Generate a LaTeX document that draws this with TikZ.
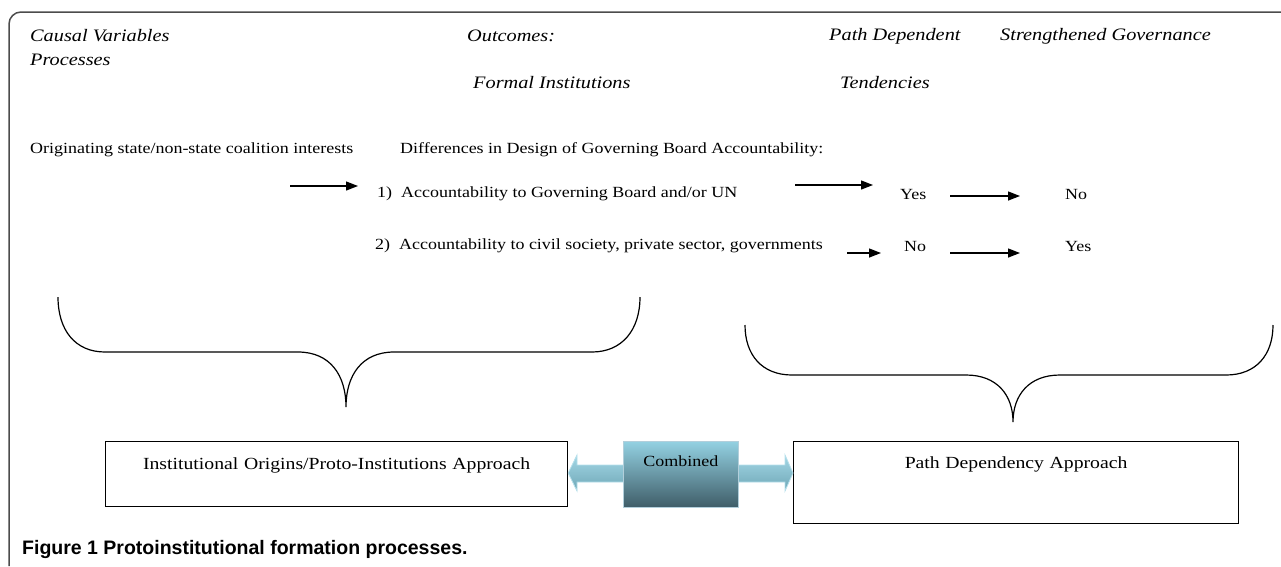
\documentclass[tikz,border=0pt]{standalone}
\usepackage{fontspec}
\setmainfont[FakeStretch=1.16]{Liberation Serif}
\newfontfamily\captionfont{Liberation Sans}
\usetikzlibrary{positioning, arrows.meta, shapes.geometric}

\begin{document}
\begin{tikzpicture}[x=1pt, y=-1pt,
  % Text Styles
  headtext/.style={anchor=west, inner sep=0pt, font=\fontsize{17.5}{20}\selectfont\itshape},
  bodytext/.style={anchor=west, inner sep=0pt, font=\fontsize{15.5}{18}\selectfont},
  approachbox/.style={rectangle, draw, line width=1.2pt, inner xsep=0pt, inner ysep=0pt, font=\fontsize{17}{19}\selectfont},
  % Arrow Styles
  solidarrow/.style={-{Triangle[length=12pt,width=9pt]}, line width=1.3pt, black},
  bracepath/.style={line width=1.2pt, black},
  % Combined Element
  combinedbox/.style={rectangle, draw=cyan!40!gray!50, line width=0.8pt, top color=arrowtop, bottom color=arrowbottom, minimum width=115pt, minimum height=66pt, inner sep=0pt, text height=25pt, text depth=41pt, font=\fontsize{15.5}{18}\selectfont}
]
\definecolor{arrowtop}{HTML}{93D1E2}
\definecolor{arrowbottom}{HTML}{3F5D68}
\definecolor{shafttop}{HTML}{A3D7E6}
\definecolor{shaftbottom}{HTML}{6FA7B6}
\useasboundingbox (0,0) rectangle (1281,566);

% Outer frame
\draw[line width=1.5pt, black!70, rounded corners=12pt] (9,566) -- (9,12) -- (1281,12);

% Column headings
\node[headtext] (causal) at (30,36) {Causal Variables};
\node[headtext] (processes) at (30,60) {Processes};
\node[headtext] (outcomes) at (467,36) {Outcomes:};
\node[headtext] (formal) at (473,83) {Formal Institutions};
\node[headtext] (pathdep) at (829,36) {Path Dependent};
\node[headtext] (tendencies) at (840,83) {Tendencies};
\node[headtext] (strengthened) at (1000,36) {Strengthened Governance};

% Rows
\node[bodytext] (originating) at (30,150) {Originating state/non-state coalition interests};
\node[bodytext] (differences) at (400,150) {Differences in Design of Governing Board Accountability:};
\node[bodytext] (item1) at (377,194) {1)\ \ Accountability to Governing Board and/or UN};
\node[bodytext] (item2) at (375,246) {2)\ \ Accountability to civil society, private sector, governments};
\node[bodytext] (yes1) at (900,194) {Yes};
\node[bodytext] (no1) at (1065,194) {No};
\node[bodytext] (no2) at (904,246) {No};
\node[bodytext] (yes2) at (1065,246) {Yes};

\coordinate (origarrow) at (290,186);
\coordinate (itemarrow) at (358,186);
\draw[solidarrow] (origarrow) -- (itemarrow);
\draw[solidarrow] ([xshift=-105pt,yshift=9pt]yes1.west) -- ([xshift=-27pt,yshift=9pt]yes1.west);
\draw[solidarrow] ([xshift=-115pt,yshift=-2pt]no1.west) -- ([xshift=-45pt,yshift=-2pt]no1.west);
\draw[solidarrow] ([xshift=-57pt,yshift=-7pt]no2.west) -- ([xshift=-23pt,yshift=-7pt]no2.west);
\draw[solidarrow] ([xshift=-115pt,yshift=-7pt]yes2.west) -- ([xshift=-45pt,yshift=-7pt]yes2.west);

% Braces
\draw[bracepath] (58,297) .. controls (58,330) and (75,352) .. (105,352) -- (298,352)
  .. controls (330,352) and (346,375) .. (346,407)
  .. controls (346,375) and (362,352) .. (394,352) -- (592,352)
  .. controls (622,352) and (640,330) .. (640,297);
\draw[bracepath] (745,325) .. controls (745,355) and (762,375) .. (792,375) -- (966,375)
  .. controls (997,375) and (1013,395) .. (1013,422)
  .. controls (1013,395) and (1029,375) .. (1060,375) -- (1226,375)
  .. controls (1256,375) and (1273,355) .. (1273,325);

% Approaches
\node[approachbox, anchor=north west, minimum width=462pt, text height=28pt, text depth=37pt, text width=462pt, align=center] (origins) at (105,441) {Institutional Origins/Proto-Institutions Approach};
\node[approachbox, anchor=north west, minimum width=445pt, text height=27pt, text depth=55pt, text width=445pt, align=center] (pathapproach) at (793,441) {Path Dependency Approach};

% Combined double arrow
\path[draw=shafttop!80!white, line width=0.8pt, top color=shafttop, bottom color=shaftbottom]
  (origins.east |- 0,473) -- (577,455) -- (577,465) -- (785,465) -- (785,455)
  -- (pathapproach.west |- 0,473) -- (785,491) -- (785,482) -- (577,482) -- (577,491) -- cycle;
\node[combinedbox, anchor=north west] (combined) at (623,441) {Combined};

% Caption
\node[anchor=west, inner sep=0pt, font=\captionfont\bfseries\fontsize{19.5}{22}\selectfont] (caption) at (22,549) {Figure 1 Protoinstitutional formation processes.};
\end{tikzpicture}
\end{document}
